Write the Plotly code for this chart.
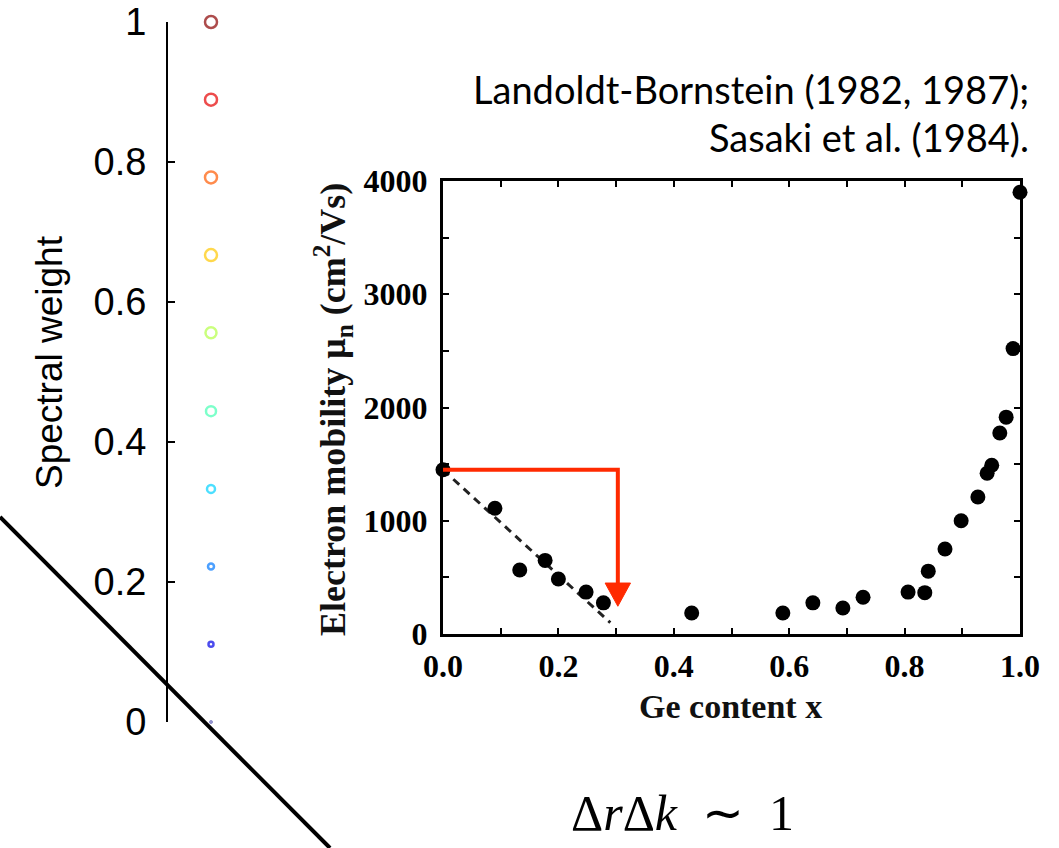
import plotly.graph_objects as go

W, H = 1059, 848

# ---------------- data ----------------
# left panel: spectral weights
spectral_weight = [1.0, 0.889, 0.778, 0.667, 0.556, 0.444, 0.333, 0.222, 0.111, 0.0]
weight_colors = ["#8a0000", "#e60000", "#ff5a00", "#ffc800", "#b4ff46",
                 "#46ffb4", "#00d2ff", "#0078ff", "#0000e6", "#00008b"]
weight_sizes = [12, 12, 12, 12, 11, 10, 8, 6, 5, 1]
weight_x = 1.0

# inner panel: electron mobility vs Ge content
ge_content = [0.0, 0.09, 0.133, 0.177, 0.20, 0.248, 0.278, 0.431, 0.589, 0.641,
              0.693, 0.728, 0.806, 0.835, 0.841, 0.870, 0.898, 0.927, 0.943,
              0.951, 0.965, 0.976, 0.988, 1.0]
mobility = [1450, 1110, 565, 650, 485, 370, 275, 185, 185, 275,
            230, 325, 370, 365, 555, 750, 1000, 1210, 1420,
            1490, 1775, 1915, 2520, 3900]
trend_x = [0.0, 0.29]
trend_y = [1450, 100]
arrow_turn_x = 0.303
arrow_line_x = [0.0, arrow_turn_x, arrow_turn_x]
arrow_line_y = [1450, 1450, 450]
arrow_head_x = [arrow_turn_x - 0.022, arrow_turn_x + 0.022, arrow_turn_x, arrow_turn_x - 0.022]
arrow_head_y = [450, 450, 245, 450]

x_ticks = [0.0, 0.2, 0.4, 0.6, 0.8, 1.0]
y_ticks = [0, 1000, 2000, 3000, 4000]


def px_x(p):
    return p / W


def px_y(p):
    return 1 - p / H


fig = go.Figure()

# left panel markers
fig.add_trace(go.Scatter(
    x=[weight_x] * len(spectral_weight), y=spectral_weight, mode="markers",
    marker=dict(symbol="circle-open", size=weight_sizes, color=weight_colors,
                line=dict(width=2.5, color=weight_colors)),
    cliponaxis=False, showlegend=False, xaxis="x", yaxis="y"))

# inner panel
fig.add_trace(go.Scatter(
    x=trend_x, y=trend_y, mode="lines",
    line=dict(color="#222", width=3, dash="8px,6px"),
    showlegend=False, xaxis="x2", yaxis="y2"))
fig.add_trace(go.Scatter(
    x=ge_content, y=mobility, mode="markers",
    marker=dict(color="black", size=15),
    cliponaxis=False, showlegend=False, xaxis="x2", yaxis="y2"))
fig.add_trace(go.Scatter(
    x=arrow_line_x, y=arrow_line_y, mode="lines",
    line=dict(color="#ff2a00", width=4),
    cliponaxis=False, showlegend=False, xaxis="x2", yaxis="y2"))
fig.add_trace(go.Scatter(
    x=arrow_head_x, y=arrow_head_y, mode="lines", fill="toself",
    fillcolor="#ff2a00", line=dict(color="#ff2a00", width=1),
    cliponaxis=False, showlegend=False, xaxis="x2", yaxis="y2"))

serif_bold = dict(family="Liberation Serif", size=32, color="black", weight="bold")

fig.update_layout(
    width=W, height=H,
    margin=dict(l=0, r=0, t=0, b=0, pad=0, autoexpand=False),
    paper_bgcolor="white", plot_bgcolor="rgba(0,0,0,0)",
    showlegend=False,
    xaxis=dict(domain=[px_x(168), px_x(254)], range=[0, 2], visible=False,
               automargin=False),
    yaxis=dict(domain=[px_y(722), px_y(22)], range=[0, 1], anchor="x",
               automargin=False,
               showline=True, linecolor="black", linewidth=2,
               ticks="inside", ticklen=7, tickwidth=2, tickcolor="black",
               dtick=0.2, showgrid=False, zeroline=False,
               ticklabelstandoff=12,
               tickfont=dict(family="Liberation Sans", size=38, color="black")),
    xaxis2=dict(domain=[px_x(443), px_x(1020)], range=[0, 1], anchor="y2",
                automargin=False,
                showline=True, linecolor="black", linewidth=3, mirror="ticks",
                ticks="inside", ticklen=6, tickwidth=2, tickcolor="black",
                tickvals=x_ticks, tickformat=".1f",
                minor=dict(dtick=0.1, ticks="inside", ticklen=6, tickwidth=2,
                           tickcolor="black"),
                showgrid=False, zeroline=False, ticklabelstandoff=2,
                tickfont=serif_bold),
    yaxis2=dict(domain=[px_y(634), px_y(181)], range=[0, 4000], anchor="x2",
                automargin=False,
                showline=True, linecolor="black", linewidth=3, mirror="ticks",
                ticks="inside", ticklen=6, tickwidth=2, tickcolor="black",
                tickvals=y_ticks, tickformat="d",
                minor=dict(dtick=500, ticks="inside", ticklen=6, tickwidth=2,
                           tickcolor="black"),
                showgrid=False, zeroline=False, ticklabelstandoff=6,
                tickfont=serif_bold),
)

annotations = [
    dict(text="Spectral weight", x=px_x(50), y=px_y(362), textangle=-90,
         font=dict(family="Liberation Sans", size=37, color="black")),
    dict(text="Electron mobility μ<sub>n</sub> (cm<sup>2</sup>/Vs)",
         x=px_x(333), y=px_y(410), textangle=-90,
         font=dict(family="Liberation Serif", size=36, color="#111", weight="bold")),
    dict(text="Ge content x", x=px_x(730), y=px_y(706),
         font=dict(family="Liberation Serif", size=34, color="#111", weight="bold")),
    dict(text="Landoldt-Bornstein (1982, 1987);", x=px_x(1031), y=px_y(89),
         xanchor="right",
         font=dict(family="Lato", size=38, color="black")),
    dict(text="Sasaki et al. (1984).", x=px_x(1031), y=px_y(137),
         xanchor="right",
         font=dict(family="Lato", size=38, color="black")),
    dict(text="Δ<i>r</i>Δ<i>k</i>\u2002∼\u20021", x=px_x(682), y=px_y(813),
         font=dict(family="Liberation Serif", size=50, color="black")),
]
for a in annotations:
    a.setdefault("xanchor", "center")
    a.update(xref="paper", yref="paper", yanchor="middle", showarrow=False)
fig.update_layout(annotations=annotations)

fig.add_shape(type="line", xref="paper", yref="paper",
              x0=0, y0=px_y(517), x1=px_x(330), y1=px_y(848),
              line=dict(color="black", width=4))

fig.write_html("out.html")
